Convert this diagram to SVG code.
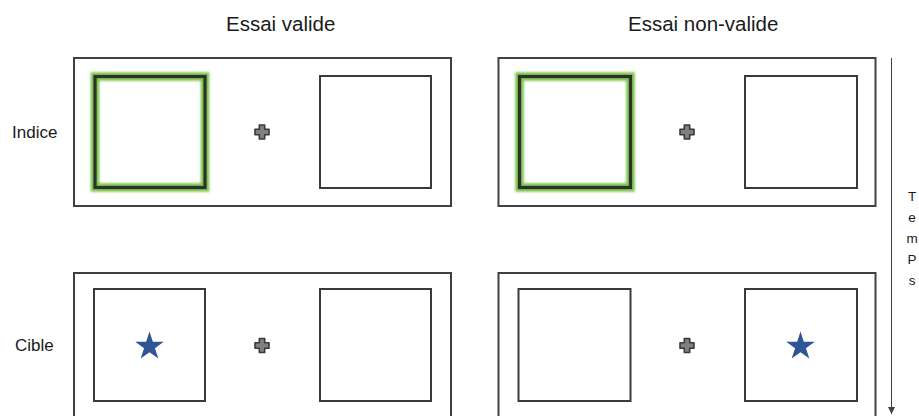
<svg xmlns="http://www.w3.org/2000/svg" width="919" height="416" viewBox="0 0 919 416">
<style>
.frame{fill:none;stroke:#404040;stroke-width:2}
.sq{fill:none;stroke:#3a3a3a;stroke-width:2}
.cue{fill:none;stroke:#303030;stroke-width:3.2}
.glow{fill:none;stroke:#6cbd35;stroke-width:8.5;opacity:0.9}
.plus{fill:#808080;stroke:#3a3a3a;stroke-width:1.6;stroke-linejoin:round}
.star{fill:#2f5597}
.hdr{font-family:"Liberation Sans",Arial,sans-serif;font-size:20.5px;fill:#1a1a1a}
.lbl{font-family:"Liberation Sans",Arial,sans-serif;font-size:17px;fill:#1a1a1a}
.time{font-family:"Liberation Sans",Arial,sans-serif;font-size:13.5px;fill:#1a1a1a;text-anchor:middle}
.axis{stroke:#404040;stroke-width:1;fill:none}
</style>
<defs>
<filter id="blur" x="-20%" y="-20%" width="140%" height="140%"><feGaussianBlur stdDeviation="1.1"/></filter>
<path id="plusShape" class="plus" d="M-2.7,-7 H2.7 V-2.7 H7 V2.7 H2.7 V7 H-2.7 V2.7 H-7 V-2.7 H-2.7 Z"/>
<path id="starShape" class="star" d="M0,-15 L3.37,-4.637 L14.266,-4.635 L5.451,1.771 L8.817,12.135 L0,5.732 L-8.817,12.135 L-5.451,1.771 L-14.266,-4.635 L-3.37,-4.637 Z"/>
<marker id="arr" viewBox="0 0 8 8" refX="8" refY="4" markerWidth="7" markerHeight="7" markerUnits="userSpaceOnUse" orient="auto">
<path d="M0,0 L8,4 L0,8 Z" fill="#404040"/>
</marker>
</defs>
<rect width="919" height="416" fill="#ffffff"/>

<g id="headers">
<text class="hdr" x="226" y="31">Essai valide</text>
<text class="hdr" x="628" y="31">Essai non-valide</text>
</g>
<g id="row-labels">
<text class="lbl" x="12" y="138">Indice</text>
<text class="lbl" x="15" y="351">Cible</text>
</g>

<g id="valid-cue">
<rect class="frame" x="74" y="58" width="377" height="148"/>
<rect class="glow" x="95" y="76.5" width="110" height="111" filter="url(#blur)"/>
<rect class="cue" x="95" y="76.5" width="110" height="111"/>
<use href="#plusShape" transform="translate(262,132)"/>
<rect class="sq" x="320" y="76" width="111" height="112"/>
</g>

<g id="invalid-cue">
<rect class="frame" x="498.5" y="58" width="377" height="148"/>
<rect class="glow" x="519.5" y="76.5" width="111" height="111" filter="url(#blur)"/>
<rect class="cue" x="519.5" y="76.5" width="111" height="111"/>
<use href="#plusShape" transform="translate(687,132)"/>
<rect class="sq" x="745" y="76" width="112" height="112"/>
</g>

<g id="valid-target">
<rect class="frame" x="74" y="273" width="377" height="150"/>
<rect class="sq" x="94" y="289" width="111" height="112"/>
<use href="#starShape" transform="translate(149.5,346.4)"/>
<use href="#plusShape" transform="translate(262,345.5)"/>
<rect class="sq" x="320" y="289" width="111" height="112"/>
</g>

<g id="invalid-target">
<rect class="frame" x="498.5" y="273" width="377" height="150"/>
<rect class="sq" x="518.5" y="289" width="112" height="112"/>
<use href="#plusShape" transform="translate(687,345.5)"/>
<rect class="sq" x="745" y="289" width="112" height="112"/>
<use href="#starShape" transform="translate(800.5,346.4)"/>
</g>

<g id="connectors">
<line class="axis" x1="891.5" y1="58" x2="891.5" y2="414" marker-end="url(#arr)"/>
</g>
<g id="time-label">
<text class="time" x="912" y="201">T</text>
<text class="time" x="912" y="222">e</text>
<text class="time" x="912" y="243">m</text>
<text class="time" x="912" y="264">P</text>
<text class="time" x="912" y="285">s</text>
</g>
</svg>
